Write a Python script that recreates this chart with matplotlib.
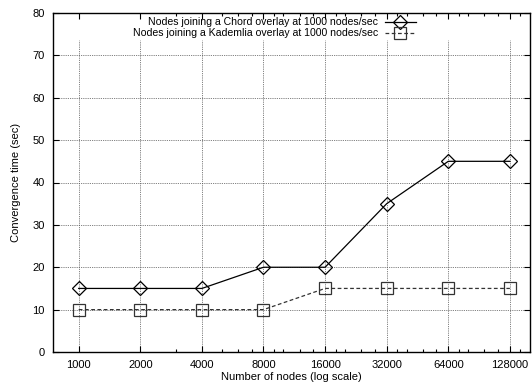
import matplotlib
matplotlib.use('Agg')
import matplotlib.pyplot as plt
from matplotlib.ticker import FixedLocator, NullFormatter

plt.rcParams['font.family'] = ['Liberation Sans', 'DejaVu Sans']
plt.rcParams['font.size'] = 8

# data
nodes = [1000, 2000, 4000, 8000, 16000, 32000, 64000, 128000]
chord = [15, 15, 15, 20, 20, 35, 45, 45]
kademlia = [10, 10, 10, 10, 15, 15, 15, 15]
x_ticklabels = ['1000', '2000', '4000', '8000', '16000', '32000', '64000', '128000']
x_minor = [3000, 5000, 6000, 7000, 9000, 10000, 12000, 14000,
           18000, 20000, 24000, 28000, 36000, 40000, 48000, 56000,
           72000, 80000, 96000, 112000, 144000]
y_ticks = [0, 10, 20, 30, 40, 50, 60, 70, 80]
label_chord = 'Nodes joining a Chord overlay at 1000 nodes/sec'
label_kad = 'Nodes joining a Kademlia overlay at 1000 nodes/sec'

fig = plt.figure(figsize=(5.32, 3.85), dpi=100)
ax = fig.add_axes([53/532, 1-352/385, 477/532, 339/385])

ax.set_xscale('log', base=2)
ax.set_xlim(749, 160500)
ax.set_ylim(0, 80)

# gnuplot style grid: verticals stop below the key
grid_kw = dict(color='#555555', linewidth=0.6, linestyle=(0, (1, 1.2)), zorder=1)
for n in nodes:
    ax.axvline(n, ymin=0, ymax=0.92, **grid_kw)
for y in y_ticks[1:-1]:
    ax.axhline(y, **grid_kw)

chord_style = dict(color='black', linewidth=0.9, marker='D', markersize=7,
                   markerfacecolor='none', markeredgecolor='black',
                   markeredgewidth=0.9)
kad_style = dict(color='#333333', linewidth=0.9, linestyle=(0, (3, 2)),
                 marker='s', markersize=9, markerfacecolor='none',
                 markeredgecolor='#333333', markeredgewidth=0.9)

ax.plot(nodes, chord, zorder=3, **chord_style)
ax.plot(nodes, kademlia, zorder=3, **kad_style)

# key, right-justified text with sample to the right
row1, row2 = 0.973, 0.940
ax.text(0.681, row1, label_chord, transform=ax.transAxes, ha='right',
        va='center', fontsize=7.6)
ax.text(0.681, row2, label_kad, transform=ax.transAxes, ha='right',
        va='center', fontsize=7.6)
ax.plot([0.696, 0.761], [row1, row1], transform=ax.transAxes, clip_on=False,
        **{k: v for k, v in chord_style.items() if not k.startswith('marker')})
ax.plot([0.7285], [row1], transform=ax.transAxes, clip_on=False,
        linestyle='none', **{k: v for k, v in chord_style.items() if k.startswith('marker')})
ax.plot([0.696, 0.761], [row2, row2], transform=ax.transAxes, clip_on=False,
        **{k: v for k, v in kad_style.items() if not k.startswith('marker')})
ax.plot([0.7285], [row2], transform=ax.transAxes, clip_on=False,
        color='#333333', linestyle='none',
        **{k: v for k, v in kad_style.items() if k.startswith('marker')})

ax.xaxis.set_major_locator(FixedLocator(nodes))
ax.set_xticklabels(x_ticklabels)
ax.xaxis.set_minor_locator(FixedLocator(x_minor))
ax.xaxis.set_minor_formatter(NullFormatter())
ax.set_yticks(y_ticks)

ax.tick_params(which='both', direction='in', top=True, right=True, width=0.8)
ax.tick_params(which='major', length=4, pad=6)
ax.tick_params(which='minor', length=2)
for s in ax.spines.values():
    s.set_linewidth(1.0)

ax.set_xlabel('Number of nodes (log scale)', labelpad=1)
ax.set_ylabel('Convergence time (sec)', labelpad=8)

fig.savefig('out.png', dpi=100)
